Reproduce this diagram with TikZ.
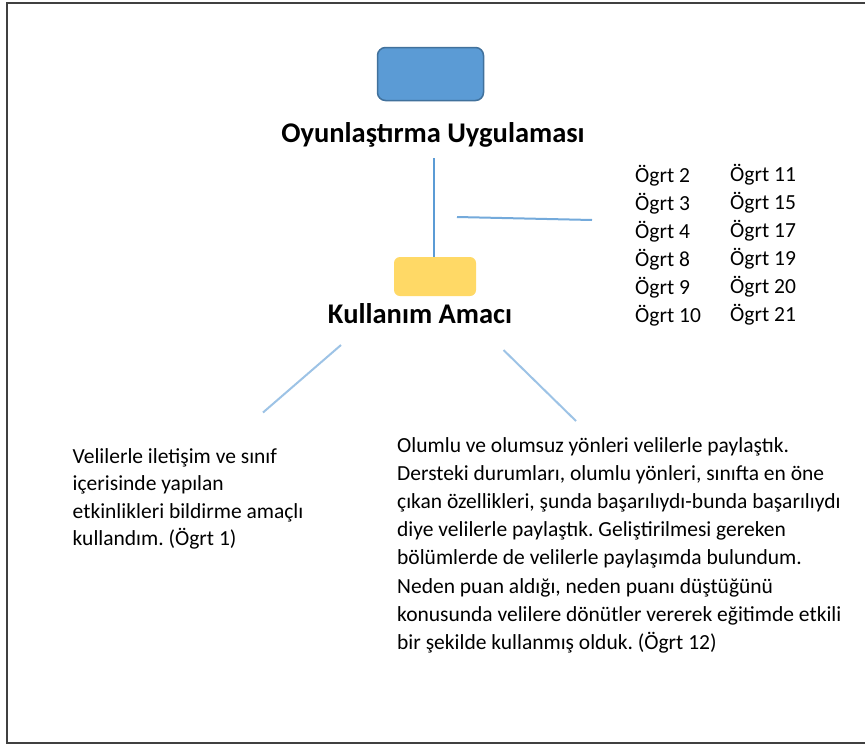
\documentclass[tikz,border=0pt]{standalone}
\usepackage{fontspec}
\setmainfont{Carlito}
\frenchspacing

\definecolor{boxblue}{HTML}{5B9BD5}
\definecolor{boxblueedge}{HTML}{41719C}
\definecolor{boxgold}{HTML}{FFD966}
\definecolor{linkblue}{HTML}{5B9BD5}
\definecolor{linklight}{HTML}{9DC3E6}
\definecolor{framegray}{HTML}{404040}

\tikzset{
  heading/.style={inner sep=0pt, anchor=base,
    font=\fontsize{28.5}{34}\selectfont\bfseries},
  para/.style={inner sep=0pt, anchor=base west,
    font=\fontsize{21.5}{28}\selectfont},
  markbox/.style={rounded corners=#1, inner sep=0pt},
  trunkline/.style={linkblue, line width=2pt},
  branchline/.style={linkblue!85, line width=2pt},
  leafline/.style={linklight, line width=2pt},
}

\newcommand{\textlines}[2]{\parbox[t]{#1}{\raggedright #2}}

\begin{document}
\begin{tikzpicture}[x=1pt, y=-1pt]
  \useasboundingbox (0,0) rectangle (865,745);
  \fill[white] (0,0) rectangle (865,745);

  % open frame around the figure
  \draw[framegray, line width=2pt] (875,3) -- (6.5,3) -- (6.5,743) -- (875,743);

  % top level: coloured marker and its heading
  \node[markbox=8pt, fill=boxblue, draw=boxblueedge, line width=1.5pt,
        minimum width=106pt, minimum height=53pt] (game) at (430.5,74) {};
  \node[heading] (gametitle) at (433,142) {Oyunlaştırma Uygulaması};

  % second level: coloured marker and its heading
  \node[markbox=6pt, fill=boxgold, minimum width=82pt, minimum height=39pt]
        (usebox) at (435,276.5) {};
  \node[heading] (usetitle) at (420,323) {Kullanım Amacı};

  % teachers list, two columns
  \node[para] (colA) at (635,182) {\textlines{90pt}{%
      Ögrt 2\\Ögrt 3\\Ögrt 4\\Ögrt 8\\Ögrt 9\\Ögrt 10}};
  \node[para] (colB) at (730,181) {\textlines{90pt}{%
      Ögrt 11\\Ögrt 15\\Ögrt 17\\Ögrt 19\\Ögrt 20\\Ögrt 21}};

  % quoted answers
  \node[para, font=\fontsize{21.5}{27.5}\selectfont] (quoteA) at (72.5,463)
    {\textlines{260pt}{%
      Velilerle iletişim ve sınıf\\
      içerisinde yapılan\\
      etkinlikleri bildirme amaçlı\\
      kullandım. (Ögrt 1)}};
  \node[para, font=\fontsize{21.5}{28.2}\selectfont] (quoteB) at (397,452)
    {\textlines{470pt}{%
      Olumlu ve olumsuz yönleri velilerle paylaştık.\\
      Dersteki durumları, olumlu yönleri, sınıfta en öne\\
      çıkan özellikleri, şunda başarılıydı-bunda başarılıydı\\
      diye velilerle paylaştık. Geliştirilmesi gereken\\
      bölümlerde de velilerle paylaşımda bulundum.\\
      Neden puan aldığı, neden puanı düştüğünü\\
      konusunda velilere dönütler vererek eğitimde etkili\\
      bir şekilde kullanmış olduk. (Ögrt 12)}};

  % connector end points
  \coordinate (trunktop) at (433.5,158);
  \coordinate (branch) at (457,217);
  \coordinate (listin) at (592,220);
  \coordinate (leftfrom) at (341,345);
  \coordinate (leftto) at (263,412.5);
  \coordinate (rightfrom) at (503.5,350);
  \coordinate (rightto) at (576,421);

  % connectors
  \draw[trunkline] (trunktop) -- (trunktop |- usebox.north);
  \draw[branchline] (branch) -- (listin);
  \draw[leafline] (leftfrom) -- (leftto);
  \draw[leafline] (rightfrom) -- (rightto);
\end{tikzpicture}
\end{document}
